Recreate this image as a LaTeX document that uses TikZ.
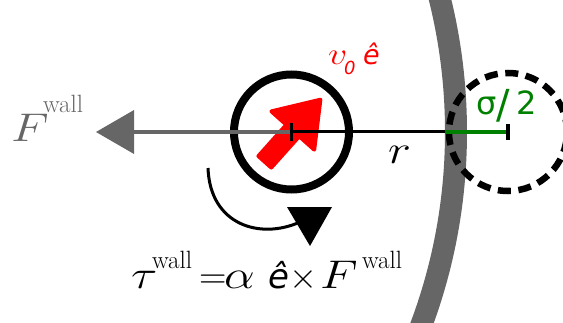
\RequirePackage{fix-cm}
\documentclass[tikz,border=0pt]{standalone}
\usepackage{fontspec}
\newfontfamily\dsans{DejaVu Sans}
\newcommand{\fsz}[1]{\fontsize{#1}{#1}\selectfont}
\begin{document}
\begin{tikzpicture}[x=1pt,y=1pt,
  lbl/.style={inner sep=0pt, outer sep=0pt, anchor=base west},
  mi/.style={lbl, font=\fsz{#1}, xscale=1.22, transform shape},
  ring/.style={circle, draw=black, line width=8pt, minimum size=115pt, inner sep=0pt},
  ghost/.style={circle, draw=black, line width=6.5pt, dash pattern=on 13pt off 7.6pt, minimum size=118pt, inner sep=0pt}]
\definecolor{wallgray}{HTML}{666666}
\definecolor{dgreen}{HTML}{008000}
\useasboundingbox (0,0) rectangle (563,322);
% wall
\begin{scope}
\clip (0,0) rectangle (563,322);
\draw[wallgray, line width=22pt] (-96,190) circle[radius=552];
\end{scope}
% red self-propulsion arrow
\begin{scope}[shift={(263.5,158.7)}, rotate=48.2]
\filldraw[red, line width=4pt, line join=round]
  (2,-8.6) -- (44,-8.6) -- (44,-28.7) -- (85.3,0) -- (44,28.7) -- (44,8.6) -- (2,8.6) -- cycle;
\end{scope}
% particle and ghost
\node[ring] (p) at (291.5,190) {};
\node[ghost] (q) at (508,190) {};
\coordinate (w) at (445,190);
\coordinate (ftip) at (96,190);
\coordinate (fbase) at (134,190);
% lines
\draw[wallgray, line width=4pt] (p.center) -- (fbase);
\fill[wallgray] (ftip) -- ([yshift=22pt]fbase) -- ([yshift=-22pt]fbase) -- cycle;
\draw[black, line width=3pt] (p.center) -- (w);
\draw[dgreen, line width=4pt] (w) -- (q.center);
\draw[black, line width=3.5pt] ([yshift=-9pt]p.center) -- ([yshift=9pt]p.center);
\draw[black, line width=3.5pt] ([yshift=-8pt]q.center) -- ([yshift=8pt]q.center);
% torque arrow
\coordinate (ts) at (208,154);
\coordinate (te) at (300,100);
\draw[black, line width=3pt] (ts) .. controls (210,97) and (260,82) .. (te);
\fill[black] (287,115) -- (332,115) -- (310,76) -- cycle;
% labels
\node[mi=40, text=wallgray] (fl) at (11,180) {$F$};
\node[lbl, text=wallgray, font=\fsz{25}] (fw) at (43,209) {wall};
\node[mi=31, text=red] (v) at (328,257) {$v$};
\node[lbl, text=red, font=\dsans\itshape\fsz{18}] (v0) at (344,247) {0};
\node[lbl, text=red, font=\dsans\itshape\fsz{27}] (ve) at (363,257) {ê};
\node[mi=40, text=black] (r) at (388,158) {$r$};
\node[lbl, text=dgreen, font=\dsans\fsz{32}] (s1) at (476,207) {σ};
\node[lbl, text=dgreen, font=\dsans\fsz{40}] (s2) at (496,203) {/};
\node[lbl, text=dgreen, font=\dsans\fsz{32}] (s3) at (516,207) {2};
% equation
\node[mi=40] (tau) at (131,34) {$\tau$};
\node[lbl, font=\fsz{25}] (tw) at (152,54) {wall};
\node[lbl, font=\fsz{38}] (eq) at (199,34) {$=$};
\node[mi=40] (al) at (224,34) {$\alpha$};
\node[lbl, font=\dsans\itshape\fsz{34}] (eh) at (268,34) {ê};
\node[lbl, font=\fsz{36}] (x) at (289,34) {$\times$};
\node[mi=40] (f2) at (320,34) {$F$};
\node[lbl, font=\fsz{25}] (fw2) at (362,54) {wall};
\end{tikzpicture}
\end{document}
